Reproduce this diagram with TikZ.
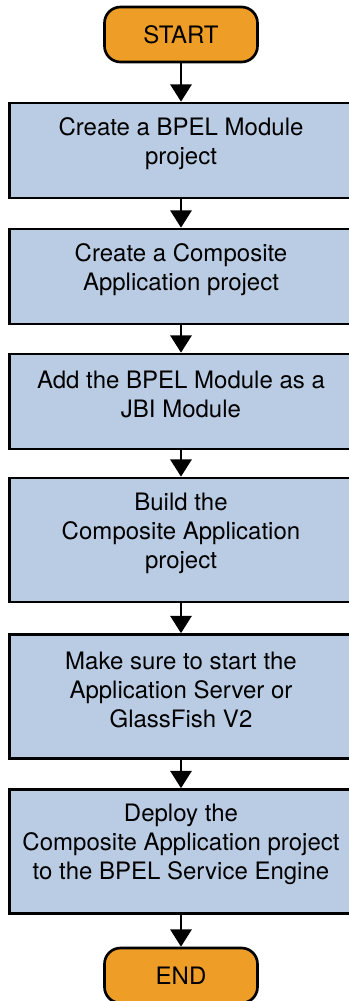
\documentclass[tikz,border=0pt]{standalone}
\usepackage{fontspec}
\setmainfont{TeX Gyre Heros}
\usepackage{xcolor}
\usetikzlibrary{arrows.meta}
\definecolor{termorange}{RGB}{238,158,38}
\definecolor{stepblue}{RGB}{186,204,228}

\begin{document}
\begin{tikzpicture}[x=0.75pt,y=-0.75pt,
    term/.style={draw=black,line width=2pt,fill=termorange,rounded corners=12pt,
      minimum width=114.75pt,minimum height=41.25pt,font=\fontsize{18}{21.75}\selectfont},
    stepbox/.style={draw=black,line width=2pt,fill=stepblue,
      minimum width=257.25pt,minimum height=71.25pt,
      label={[align=center,yshift=5pt,font=\fontsize{18}{21.75}\selectfont]center:#1}},
    tallbox/.style={stepbox=#1,minimum height=93pt},
    flow/.style={line width=1.5pt,-{Triangle[length=13pt,width=16pt]}}]
        \useasboundingbox (0,0) rectangle (349,1001);
        \begin{scope}
        \clip (0,0) rectangle (349,1001);
        % start
        \node[term] (start) at (181,34.5) {START};
        % steps
        \node[stepbox={Create a BPEL Module\\project}] (bpel) at (181,150.5) {};
        \node[stepbox={Create a Composite\\Application project}] (comp) at (181,276.5) {};
        \node[stepbox={Add the BPEL Module as a\\JBI Module}] (jbi) at (181,401.5) {};
        \node[tallbox={Build the\\Composite Application\\project}] (build) at (181,540) {};
        \node[tallbox={Make sure to start the\\Application Server or\\GlassFish V2}] (server) at (181,696.5) {};
        \node[tallbox={Deploy the\\Composite Application project\\to the BPEL Service Engine}] (deploy) at (181,851.5) {};
        % end
        \node[term] (end) at (181,975.5) {END};
        % arrows
        \draw[flow] (start) -- (bpel);
        \draw[flow] (bpel) -- (comp);
        \draw[flow] (comp) -- (jbi);
        \draw[flow] (jbi) -- (build);
        \draw[flow] (build) -- (server);
        \draw[flow] (server) -- (deploy);
        \draw[flow] (deploy) -- (end);
        \end{scope}
    \end{tikzpicture}
\end{document}
